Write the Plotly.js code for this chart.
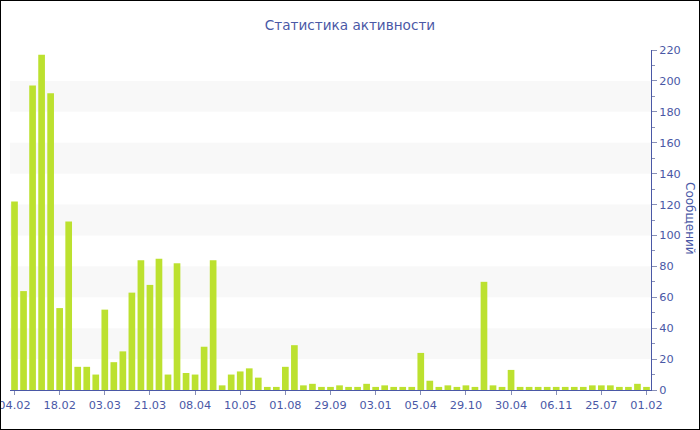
<!DOCTYPE html>
<html>
<head>
<meta charset="utf-8">
<script src="https://cdn.plot.ly/plotly-3.0.1.min.js"></script>
<style>
  html, body { margin: 0; padding: 0; background: #fff; }
  #chart { width: 698px; height: 428px; border: 1px solid #000; }
</style>
</head>
<body>
<div id="chart"></div>
<script>
// Messages per period (71 periods)
const counts = [
  122, 64, 197, 217, 192, 53, 109, 15, 15, 10,
  52, 18, 25, 63, 84, 68, 85, 10, 82, 11,
  10, 28, 84, 3, 10, 12, 14, 8, 2, 2,
  15, 29, 3, 4, 2, 2, 3, 2, 2, 4,
  2, 3, 2, 2, 2, 24, 6, 2, 3, 2,
  3, 2, 70, 3, 2, 13, 2, 2, 2, 2,
  2, 2, 2, 2, 3, 3, 3, 2, 2, 4,
  2
];
const tickIndex = [0, 5, 10, 15, 20, 25, 30, 35, 40, 45, 50, 55, 60, 65, 70];
const tickLabels = ['04.02', '18.02', '03.03', '21.03', '08.04', '10.05', '01.08',
  '29.09', '03.01', '05.04', '29.10', '30.04', '06.11', '25.07', '01.02'];
const bands = [[20, 40], [60, 80], [100, 120], [140, 160], [180, 200]];

const blue = '#4a58a6';
const xs = counts.map((_, i) => i);

const shapes = bands.map(b => ({
  type: 'rect', xref: 'paper', yref: 'y', x0: 0, x1: 1, y0: b[0], y1: b[1],
  fillcolor: '#f8f8f8', line: { width: 0 }, layer: 'below'
}));

const trace = {
  type: 'bar', x: xs, y: counts,
  marker: { color: '#bce12f', line: { width: 0 } },
  hoverinfo: 'y'
};

const layout = {
  width: 698, height: 428,
  margin: { l: 9, r: 48, t: 49, b: 39 },
  paper_bgcolor: '#ffffff', plot_bgcolor: '#ffffff',
  font: { family: 'DejaVu Sans, Verdana, sans-serif', color: blue, size: 11 },
  title: {
    text: 'Статистика активности',
    font: { size: 13.6, color: blue, family: 'DejaVu Sans, Verdana, sans-serif' },
    x: 0.5, xref: 'container', xanchor: 'center',
    y: 1 - 24 / 428, yref: 'container', yanchor: 'middle'
  },
  bargap: 0.26,
  showlegend: false,
  xaxis: {
    range: [-0.5, 70.5], tickmode: 'array', tickvals: tickIndex, ticktext: tickLabels,
    ticklabeloverflow: 'allow',
    showline: true, linecolor: blue, linewidth: 1,
    ticks: 'outside', ticklen: 4, tickcolor: '#8890b8',
    showgrid: false, zeroline: false,
    tickfont: { size: 11.3, color: blue }
  },
  yaxis: {
    range: [0, 220], side: 'right', dtick: 20, tick0: 0,
    ticklabeloverflow: 'allow',
    showline: true, linecolor: blue, linewidth: 1,
    ticks: 'outside', ticklen: 5, tickcolor: '#8890b8',
    minor: { dtick: 10, ticks: 'outside', ticklen: 3, tickcolor: '#8890b8' },
    showgrid: false, zeroline: false,
    tickfont: { size: 11.3, color: blue }
  },
  shapes: shapes,
  annotations: [{
    text: 'Сообщений', xref: 'paper', yref: 'paper',
    x: (689 - 9) / 641, y: (389 - 217) / 340, xanchor: 'center', yanchor: 'middle',
    textangle: 90, showarrow: false, font: { size: 12, color: blue }
  }]
};

Plotly.newPlot('chart', [trace], layout, { displayModeBar: false, staticPlot: true });
</script>
</body>
</html>
